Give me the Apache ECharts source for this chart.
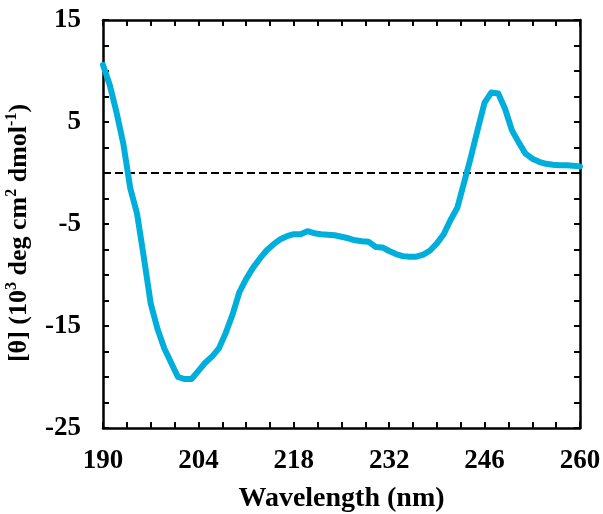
<!DOCTYPE html>
<html>
<head>
<meta charset="utf-8">
<script src="https://cdn.jsdelivr.net/npm/echarts@6/dist/echarts.min.js"></script>
<style>
  html, body { margin: 0; padding: 0; background: #fff; }
  #chart { width: 603px; height: 514px; }
</style>
</head>
<body>
<div id="chart"></div>
<script>
// CD spectrum: mean residue ellipticity vs wavelength
const wavelengths = [
  190, 191, 192, 193, 194, 195, 196, 197, 198, 199,
  200, 201, 202, 203, 204, 205, 206, 207, 208, 209,
  210, 211, 212, 213, 214, 215, 216, 217, 218, 219,
  220, 221, 222, 223, 224, 225, 226, 227, 228, 229,
  230, 231, 232, 233, 234, 235, 236, 237, 238, 239,
  240, 241, 242, 243, 244, 245, 246, 247, 248, 249,
  250, 251, 252, 253, 254, 255, 256, 257, 258, 259, 260
];
const ellipticity = [
  10.6, 8.6, 5.9, 2.8, -1.5, -4.0, -8.3, -12.8, -15.3, -17.2,
  -18.6, -20.0, -20.2, -20.2, -19.4, -18.6, -18.0, -17.2, -15.7, -13.9,
  -11.7, -10.4, -9.3, -8.4, -7.6, -7.0, -6.5, -6.2, -6.0, -6.0,
  -5.7, -5.9, -6.0, -6.05, -6.1, -6.25, -6.4, -6.6, -6.7, -6.75,
  -7.25, -7.3, -7.65, -7.95, -8.15, -8.2, -8.2, -8.0, -7.6, -6.9,
  -6.0, -4.6, -3.4, -0.9, 1.6, 4.3, 6.9, 7.9, 7.8, 6.3,
  4.2, 3.0, 1.9, 1.4, 1.1, 0.9, 0.8, 0.75, 0.75, 0.7, 0.65
];
const xTicks = { min: 190, max: 260, step: 14 };
const yTicks = { min: -25, max: 15, step: 10 };
const baseline = 0;

const FONT = '"Liberation Serif", "Times New Roman", serif';
const axisCommon = {
  axisLine: { show: true, onZero: false, lineStyle: { color: '#000', width: 2.5 } },
  axisTick: { show: true, inside: true, length: 6, lineStyle: { color: '#000', width: 2 } },
  minorTick: { show: true, splitNumber: 4, length: 6, lineStyle: { color: '#000', width: 2 } },
  splitLine: { show: false },
  minorSplitLine: { show: false }
};
const labelStyle = { fontFamily: FONT, fontWeight: 'bold', fontSize: 27, color: '#000' };

const chart = echarts.init(document.getElementById('chart'), null, { renderer: 'canvas' });
chart.setOption({
  animation: false,
  backgroundColor: '#fff',
  grid: { left: 103, right: 23, top: 20, bottom: 86, containLabel: false, outerBoundsMode: 'none' },
  xAxis: [
    Object.assign({
      type: 'value', position: 'bottom',
      min: xTicks.min, max: xTicks.max, interval: xTicks.step,
      axisLabel: Object.assign({ margin: 20 }, labelStyle),
      name: 'Wavelength (nm)', nameLocation: 'middle', nameGap: 57,
      nameTextStyle: { fontFamily: FONT, fontWeight: 'bold', fontSize: 28, color: '#000' }
    }, axisCommon),
    Object.assign({
      type: 'value', position: 'top',
      min: xTicks.min, max: xTicks.max, interval: xTicks.step,
      axisLabel: { show: false }
    }, axisCommon)
  ],
  yAxis: [
    Object.assign({
      type: 'value', position: 'left',
      min: yTicks.min, max: yTicks.max, interval: yTicks.step,
      axisLabel: Object.assign({ margin: 22 }, labelStyle),
      name: '[θ] (10{sup|3} deg cm{sup|2} dmol{sup|-1})',
      nameLocation: 'middle', nameGap: 61,
      nameTextStyle: {
        fontFamily: FONT, fontWeight: 'bold', fontSize: 26, color: '#000', lineHeight: 30,
        padding: [0, 18, 0, 0],
        rich: {
          sup: { fontFamily: FONT, fontWeight: 'bold', fontSize: 16, color: '#000', verticalAlign: 'top', lineHeight: 18 }
        }
      }
    }, axisCommon),
    Object.assign({
      type: 'value', position: 'right',
      min: yTicks.min, max: yTicks.max, interval: yTicks.step,
      axisLabel: { show: false }
    }, axisCommon)
  ],
  series: [{
    type: 'line',
    xAxisIndex: 0, yAxisIndex: 0,
    data: wavelengths.map((w, i) => [w, ellipticity[i]]),
    showSymbol: false,
    symbol: 'none',
    smooth: false,
    lineStyle: { color: '#00AEDC', width: 6, cap: 'round', join: 'round' },
    z: 3,
    markLine: {
      silent: true,
      symbol: ['none', 'none'],
      label: { show: false },
      lineStyle: { color: '#000', width: 2, type: 'dashed' },
      data: [{ yAxis: baseline }],
      z: 2
    }
  }]
});
</script>
</body>
</html>
